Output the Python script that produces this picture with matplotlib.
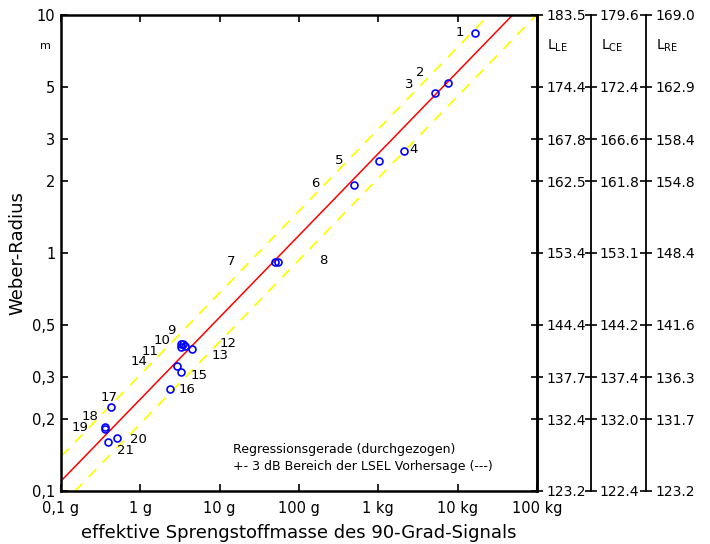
import numpy as np
import matplotlib
matplotlib.use("Agg")
import matplotlib.pyplot as plt

# Messpunkte: effektive Sprengstoffmasse (kg) und Weber-Radius (m)
labels = ["1", "2", "3", "4", "5", "6", "7", "8", "9", "10", "11",
          "14", "12", "13", "15", "16", "17", "18", "19", "20", "21"]
mass_kg = [16.6, 7.48, 5.18, 2.09, 1.01, 0.493, 0.0499, 0.0548,
           0.00329, 0.00348, 0.00326, 0.00366, 0.00452, 0.00292,
           0.00329, 0.00237, 0.000427, 0.000361, 0.000356, 0.000513,
           0.000391]
radius_m = [8.43, 5.19, 4.69, 2.69, 2.44, 1.93, 0.914, 0.914,
            0.415, 0.415, 0.403, 0.408, 0.394, 0.335,
            0.316, 0.269, 0.225, 0.186, 0.183, 0.167, 0.160]

# Regressionsgerade log10(r) = a + b*log10(m), Band +-3 dB
reg_a = 0.418
reg_b = 0.344
band = 0.103

x_ticks = [1e-4, 1e-3, 1e-2, 1e-1, 1, 10, 100]
x_ticklabels = ["0,1 g", "1 g", "10 g", "100 g", "1 kg", "10 kg", "100 kg"]
y_ticks = [10, 5, 3, 2, 1, 0.5, 0.3, 0.2, 0.1]
y_ticklabels = ["10", "5", "3", "2", "1", "0,5", "0,3", "0,2", "0,1"]
l_le = ["183.5", "174.4", "167.8", "162.5", "153.4", "144.4", "137.7", "132.4", "123.2"]
l_ce = ["179.6", "172.4", "166.6", "161.8", "153.1", "144.2", "137.4", "132.0", "122.4"]
l_re = ["169.0", "162.9", "158.4", "154.8", "148.4", "141.6", "136.3", "131.7", "123.2"]

# Versatz der Nummern zum Punkt (Pixel)
lab_off = [(-15, 0), (-27, 10), (-26, 9), (10, 1), (-39, 0), (-39, 2),
           (-44, 1), (45, 2), (-10, 13), (-21, 3), (-31, -5), (-46, -16),
           (36, 6), (43, 11), (18, -3), (17, -1), (-2, 10), (-15, 10),
           (-25, 1), (21, -2), (18, -8)]

fig = plt.figure(figsize=(7.1, 5.44), dpi=100)
ax = fig.add_axes([61 / 710, 53 / 544, 476 / 710, 476 / 544])
ax.set_xscale("log")
ax.set_yscale("log")
ax.set_xlim(1e-4, 100)
ax.set_ylim(0.1, 10)

xx = np.logspace(-4, 2, 200)
yy = 10 ** (reg_a + reg_b * np.log10(xx))
ax.plot(xx, yy, color="red", lw=1.1)
ax.plot(xx, yy * 10 ** band, color="yellow", lw=1.3, dashes=(6, 5))
ax.plot(xx, yy / 10 ** band, color="yellow", lw=1.3, dashes=(6, 5))

ax.plot(mass_kg, radius_m, "o", ms=5, mfc="none", mec="blue", mew=1.2,
        clip_on=False)
for lab, x, y, off in zip(labels, mass_kg, radius_m, lab_off):
    ax.annotate(lab, (x, y), xytext=off, textcoords="offset pixels",
                ha="center", va="center", fontsize=9.5)

ax.minorticks_off()
ax.set_xticks(x_ticks)
ax.set_xticklabels(x_ticklabels)
ax.set_yticks(y_ticks)
ax.set_yticklabels(y_ticklabels)
ax.tick_params(direction="in", length=5, width=1.2, labelsize=10.5,
               top=True, right=False)
ax.tick_params(axis="y", pad=4)
ax.tick_params(axis="x", pad=7)
for s in ax.spines.values():
    s.set_linewidth(1.8)

ax.set_xlabel("effektive Sprengstoffmasse des 90-Grad-Signals",
              fontsize=13, labelpad=6)
ax.set_ylabel("Weber-Radius", fontsize=13, labelpad=4)
ax.text(-0.022, 0.935, "m", transform=ax.transAxes, ha="right",
        va="center", fontsize=8)

ax.text(0.361, 0.088, "Regressionsgerade (durchgezogen)",
        transform=ax.transAxes, fontsize=9, va="center")
ax.text(0.361, 0.052, "+- 3 dB Bereich der LSEL Vorhersage (---)",
        transform=ax.transAxes, fontsize=9, va="center")

# drei Pegelskalen rechts
right_pos = [1.0, 1.1128, 1.229]
right_labels = [l_le, l_ce, l_re]
right_names = [r"L$_{\mathrm{LE}}$", r"L$_{\mathrm{CE}}$", r"L$_{\mathrm{RE}}$"]
for pos, tl, name in zip(right_pos, right_labels, right_names):
    tw = ax.twinx()
    tw.set_yscale("log")
    tw.set_ylim(0.1, 10)
    tw.minorticks_off()
    tw.set_yticks(y_ticks)
    tw.set_yticklabels(tl)
    tw.spines["right"].set_position(("axes", pos))
    tw.spines["right"].set_linewidth(1.8 if pos == 1.0 else 1.3)
    for k in ["left", "top", "bottom"]:
        tw.spines[k].set_visible(False)
    tw.tick_params(direction="inout", length=9, width=1.2,
                   labelsize=10, pad=2)
    tw.text(pos + 0.021, 0.935, name, transform=ax.transAxes,
            ha="left", va="center", fontsize=10)

fig.savefig("out.png", dpi=100)
